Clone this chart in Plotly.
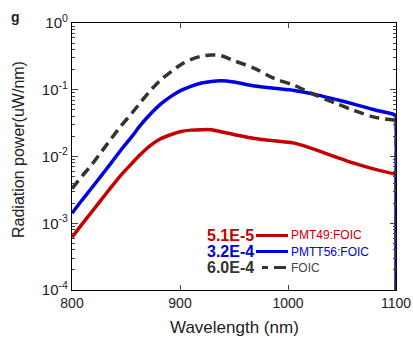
import plotly.graph_objects as go

wavelength = [800, 809, 818, 827, 836, 845, 855, 864, 873, 882, 892, 901, 910, 920, 929, 938,
              950, 969, 987, 1006, 1024, 1043, 1061, 1080, 1098, 1100]
log_pmt49 = [-3.21, -3.02, -2.835, -2.65, -2.465, -2.285, -2.11, -1.96, -1.83, -1.735, -1.67,
             -1.625, -1.605, -1.598, -1.60, -1.63, -1.67, -1.73, -1.765, -1.80, -1.89, -2.00,
             -2.10, -2.19, -2.26, -2.27]
log_pmtt56 = [-2.851, -2.66, -2.476, -2.29, -2.102, -1.91, -1.71, -1.52, -1.355, -1.215,
              -1.095, -1.01, -0.948, -0.90, -0.875, -0.865, -0.885, -0.944, -0.978, -1.01,
              -1.065, -1.14, -1.215, -1.30, -1.37, -1.383]
log_foic = [-2.48, -2.30, -2.127, -1.935, -1.74, -1.55, -1.36, -1.18, -1.005, -0.855, -0.725,
            -0.62, -0.548, -0.497, -0.479, -0.49, -0.565, -0.68, -0.829, -0.935, -1.07,
            -1.195, -1.31, -1.41, -1.453, -1.455]
floor_value = 1e-6  # curves drop to zero at the end of the measured range

series_names = ["PMT49:FOIC", "PMTT56:FOIC", "FOIC"]
series_labels = ["5.1E-5", "3.2E-4", "6.0E-4"]
x_ticks = [800, 900, 1000, 1100]
y_ticks = [1e-4, 1e-3, 1e-2, 1e-1, 1e0]
y_ticktext = ["10<sup>-4</sup>", "10<sup>-3</sup>", "10<sup>-2</sup>", "10<sup>-1</sup>", "10<sup>0</sup>"]

pmt49 = [10 ** v for v in log_pmt49]
pmtt56 = [10 ** v for v in log_pmtt56]
foic = [10 ** v for v in log_foic]

colors = ["#c40000", "#0000e0", "#333333"]
FONT = "Liberation Sans, Arial, sans-serif"

L, R, T, B = 72, 396, 23, 290
W, H = 413, 342

fig = go.Figure()
for y, c, dash in [(pmt49, colors[0], "solid"), (pmtt56, colors[1], "solid"),
                   (foic, colors[2], "10px,6px")]:
    fig.add_trace(go.Scatter(x=wavelength, y=y, mode="lines",
                             line=dict(color=c, width=3.5, dash=dash, shape="spline", smoothing=0.9),
                             showlegend=False))
    fig.add_trace(go.Scatter(x=[wavelength[-1], wavelength[-1]], y=[y[-1], floor_value], mode="lines",
                             line=dict(color=c, width=3, dash=dash), showlegend=False))

minor_vals = [m * 10 ** e for e in range(-4, 0) for m in range(2, 10)]

fig.update_layout(
    width=W, height=H,
    margin=dict(l=L, r=W - R, t=T, b=H - B),
    paper_bgcolor="white", plot_bgcolor="white",
    font=dict(family=FONT, color="#222222", size=13),
    xaxis=dict(range=[800, 1100], tickvals=x_ticks, ticks="inside", ticklen=5,
               tickwidth=1.2, showline=True, linecolor="black", linewidth=1.3,
               mirror="ticks", showgrid=False, zeroline=False, automargin=False,
               tickfont=dict(size=14, family=FONT, color="#222")),
    yaxis=dict(type="log", range=[-4, 0], tickvals=y_ticks, ticktext=y_ticktext,
               ticks="inside", ticklen=6, tickwidth=1.2, showline=True, linecolor="black",
               linewidth=1.3, mirror="ticks", showgrid=False, zeroline=False, automargin=False,
               tickfont=dict(size=15, family=FONT, color="#222"),
               minor=dict(tickmode="array", tickvals=minor_vals, ticks="inside",
                          ticklen=3, tickwidth=1, showgrid=False)),
)

def px_x(p):
    return (p - L) / (R - L)

def px_y(p):
    return 1 - (p - T) / (B - T)

fig.add_annotation(text="Wavelength (nm)", xref="paper", yref="paper", x=px_x(234.5), y=px_y(327),
                   xanchor="center", yanchor="middle", showarrow=False,
                   font=dict(size=17, family=FONT, color="#222"))
fig.add_annotation(text="Radiation power(uW/nm)", xref="paper", yref="paper", x=px_x(18), y=px_y(150),
                   xanchor="center", yanchor="middle", showarrow=False, textangle=-90,
                   font=dict(size=16, family=FONT, color="#222"))
fig.add_annotation(text="<b>g</b>", xref="paper", yref="paper", x=px_x(15), y=px_y(17),
                   xanchor="center", yanchor="middle", showarrow=False,
                   font=dict(size=14, family=FONT, color="#222"))

# custom legend
row_y = [235.5, 251.5, 267.5]
for i in range(3):
    yp = px_y(row_y[i])
    x0 = px_x(256)
    x1 = px_x(288)
    fig.add_annotation(text="<b>" + series_labels[i] + "</b>", xref="paper", yref="paper",
                       x=px_x(256), y=yp, xanchor="right", yanchor="middle", showarrow=False,
                       font=dict(size=16, family=FONT, color=colors[i] if i < 2 else "#333"))
    fig.add_annotation(text=series_names[i], xref="paper", yref="paper",
                       x=px_x(289), y=yp, xanchor="left", yanchor="middle", showarrow=False,
                       font=dict(size=12, family=FONT, color=colors[i] if i < 2 else "#444"))
    if i < 2:
        fig.add_shape(type="line", xref="paper", yref="paper", x0=x0, x1=x1, y0=yp, y1=yp,
                      line=dict(color=colors[i], width=3))
    else:
        for a, b in [(262, 268), (274, 286)]:
            fig.add_shape(type="line", xref="paper", yref="paper",
                          x0=px_x(a), x1=px_x(b), y0=yp, y1=yp,
                          line=dict(color=colors[2], width=3))

fig.write_html("out.html", config={"displayModeBar": False},
               post_script="document.body.style.margin='0';")
